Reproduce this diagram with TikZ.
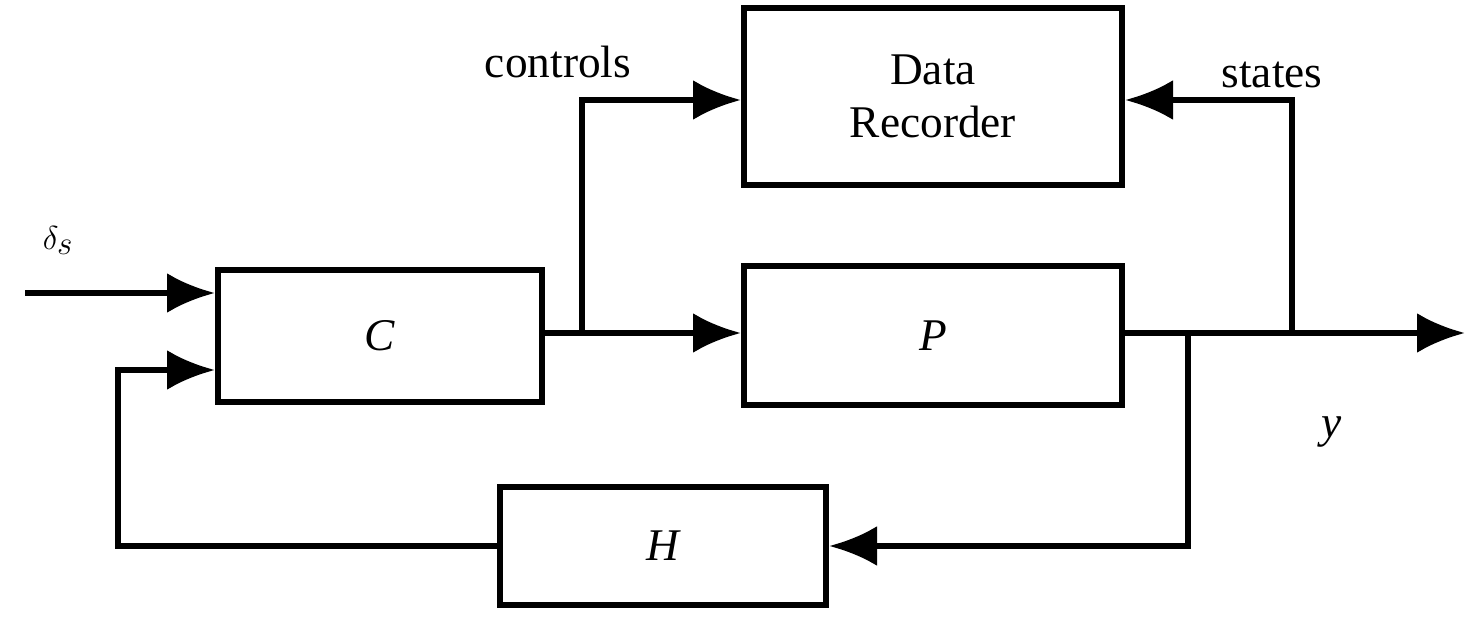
\documentclass[tikz,border=0pt]{standalone}
\usepackage{fontspec}
\setmainfont{Liberation Serif}
\usetikzlibrary{arrows.meta}
\begin{document}
\begin{tikzpicture}[x=0.75pt,y=-0.75pt,
  blk/.style={draw,line width=4.5pt,inner sep=0pt,font=\fontsize{34}{40}\selectfont},
  ln/.style={line width=4.5pt},
  ar/.style={ln,-{Latex[length=36pt,width=30pt]}},
  lbl/.style={font=\fontsize{34}{40}\selectfont}]
\useasboundingbox (0,0) rectangle (1475,620);
\node[blk,minimum width=324*0.75pt,minimum height=132*0.75pt] (C) at (380,336) {\itshape C};
\node[blk,minimum width=378*0.75pt,minimum height=139*0.75pt] (P) at (933,335.5) {\itshape P};
\node[blk,minimum width=378*0.75pt,minimum height=177*0.75pt,align=center] (D) at (933,96.5) {Data\\Recorder};
\node[blk,minimum width=326*0.75pt,minimum height=118*0.75pt] (H) at (663,546) {\itshape H};
\coordinate (in) at (25,293);
\coordinate (fb) at (118,370);
\coordinate (b1) at (582,333);
\coordinate (b2) at (1188,333);
\coordinate (b3) at (1292,333);
\coordinate (out) at (1465,333);
\draw[ar] (in) -- (in -| C.west);
\draw[ar] (H.west) -| (fb) -- (fb -| C.west);
\draw[ar] (C.east |- b1) -- (b1 -| P.west);
\draw[ar] (b1) |- (582,100) -- (D.west |- 0,100);
\draw[ar] (P.east |- b1) -- (out);
\draw[ar] (b2) |- (H.east);
\draw[ar] (b3) |- (D.east |- 0,100);
\node[lbl] (lc) at (558,62) {controls};
\node[lbl] (ls) at (1272,75) {states};
\node[font=\fontsize{40}{44}\selectfont] (ld) at (58,240) {$\delta_s$};
\node[lbl] (ly) at (1332,432) {\itshape y};
\end{tikzpicture}
\end{document}
